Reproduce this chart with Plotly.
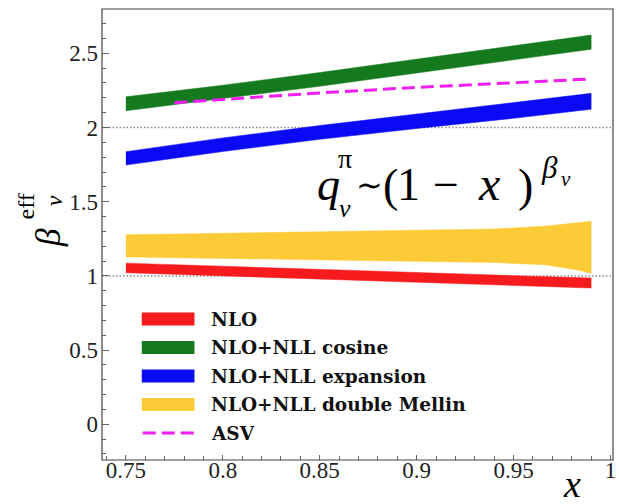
import plotly.graph_objects as go

# ---------------- data ----------------
series_names = ["NLO", "NLO+NLL cosine", "NLO+NLL expansion", "NLO+NLL double Mellin", "ASV"]

x_nlo = [0.75, 0.87, 0.99]
nlo_hi = [1.086, 1.035, 0.985]
nlo_lo = [1.022, 0.970, 0.918]

x_cos = [0.75, 0.80, 0.85, 0.90, 0.95, 0.99]
cos_hi = [2.207, 2.285, 2.370, 2.460, 2.550, 2.623]
cos_lo = [2.113, 2.195, 2.278, 2.366, 2.455, 2.527]

x_exp = [0.75, 0.80, 0.85, 0.90, 0.95, 0.99]
exp_hi = [1.837, 1.930, 2.013, 2.090, 2.165, 2.230]
exp_lo = [1.747, 1.838, 1.920, 1.993, 2.062, 2.123]

x_dm = [0.75, 0.86, 0.94, 0.966, 0.983, 0.99]
dm_hi = [1.277, 1.300, 1.316, 1.335, 1.355, 1.368]
dm_lo = [1.128, 1.106, 1.090, 1.075, 1.040, 1.018]

x_asv = [0.775, 0.82, 0.85, 0.90, 0.95, 0.99]
asv = [2.167, 2.207, 2.233, 2.270, 2.303, 2.327]

ref_levels = [1, 2]

x_ticks = [0.75, 0.8, 0.85, 0.9, 0.95, 1]
x_ticktext = ["0.75", "0.8", "0.85", "0.9", "0.95", "1"]
y_ticks = [0, 0.5, 1, 1.5, 2, 2.5]
y_ticktext = ["0", "0.5", "1", "1.5", "2", "2.5"]

colors = ["#f81b1e", "#157a1e", "#0a0af5", "#fdcb37", "#f01ef0"]

# ---------------- layout helpers (window pixel coords) ----------------
W, H = 619, 504
PL, PR, PT, PB = 102, 616, 9, 460   # plot area in pixels
L, T, R, B = PL, PT, W - PR, H - PB
PW, PH = PR - PL, PB - PT


def px(xp):
    return (xp - PL) / PW


def py(yp):
    return (PB - yp) / PH


fig = go.Figure()

bands = [
    (x_nlo, nlo_hi, nlo_lo),
    (x_cos, cos_hi, cos_lo),
    (x_exp, exp_hi, exp_lo),
    (x_dm, dm_hi, dm_lo),
]
for (xs, hi, lo), name, col in zip(bands, series_names[:4], colors[:4]):
    fig.add_trace(go.Scatter(
        x=list(xs) + list(xs)[::-1],
        y=list(hi) + list(lo)[::-1],
        fill="toself", fillcolor=col, mode="lines",
        line=dict(color=col, width=0.5),
        name=name, showlegend=False, hoverinfo="skip",
    ))

fig.add_trace(go.Scatter(
    x=x_asv, y=asv, mode="lines", name=series_names[4],
    line=dict(color=colors[4], width=3, dash="13px,6px"),
    showlegend=False,
))

# dotted reference lines
for lvl in ref_levels:
    fig.add_shape(type="line", xref="x domain", yref="y", x0=0, x1=1, y0=lvl, y1=lvl,
                  line=dict(color="#8a8a8a", width=1.5, dash="1.5px,2px"), layer="below")

# plot frame
fig.add_shape(type="rect", xref="paper", yref="paper", x0=0, x1=1, y0=0, y1=1,
              line=dict(color="#444", width=1.2), fillcolor="rgba(0,0,0,0)", layer="above")

# ---------------- manual legend ----------------
rows = [319, 347.5, 376, 404.5, 433]
for i, (name, col, ry) in enumerate(zip(series_names, colors, rows)):
    if i < 4:
        fig.add_shape(type="rect", xref="paper", yref="paper",
                      x0=px(142), x1=px(195), y0=py(ry + 6.5), y1=py(ry - 6.5),
                      fillcolor=col, line=dict(width=0))
    else:
        fig.add_shape(type="line", xref="paper", yref="paper",
                      x0=px(143), x1=px(195), y0=py(ry), y1=py(ry),
                      line=dict(color=col, width=3, dash="13px,6px"))
    fig.add_annotation(xref="paper", yref="paper", x=px(210), y=py(ry),
                       xanchor="left", yanchor="middle", showarrow=False,
                       text="<b>%s</b>" % name,
                       font=dict(family="DejaVu Serif", size=18.5, color="#111"))

# ---------------- math text ----------------
SERIF = "Liberation Serif"


def glyph(text, cx, baseline, size):
    cy = baseline - 0.3375 * size
    fig.add_annotation(xref="paper", yref="paper", x=px(cx), y=py(cy),
                       xanchor="center", yanchor="middle", showarrow=False,
                       text=text, font=dict(family=SERIF, size=size, color="black"))


glyph("<i>q</i>", 330, 200, 46)
glyph("π", 346, 168, 28)
glyph("<i>v</i>", 346, 217, 26)
glyph("∼", 371, 196, 32)
glyph("(", 392, 201, 46)
glyph("1", 410, 200, 46)
glyph("−", 448, 200, 46)
glyph("<i>x</i>", 491, 200, 48)
glyph(")", 528, 201, 46)
glyph("<i>β</i>", 552, 178, 31)
glyph("<i>v</i>", 569, 186, 21)

# x axis title
glyph("<i>x</i>", 575, 497, 38)


# y axis title (rotated)
def rglyph(text, cx, cy, size):
    fig.add_annotation(xref="paper", yref="paper", x=px(cx), y=py(cy),
                       xanchor="center", yanchor="middle", showarrow=False, textangle=-90,
                       text=text, font=dict(family=SERIF, size=size, color="black"))


rglyph("<i>β</i>", 48, 238, 36)
rglyph("eff", 26, 206, 24)
rglyph("<i>v</i>", 54, 201, 24)

axis_common = dict(
    showline=False,
    ticks="inside", tickcolor="#666", showgrid=False, zeroline=False,
    ticklabeloverflow="allow",
    tickfont=dict(family=SERIF, size=23, color="#222"),
)

fig.update_layout(
    width=W, height=H,
    margin=dict(l=L, r=R, t=T, b=B),
    paper_bgcolor="white", plot_bgcolor="white",
    showlegend=False,
    xaxis=dict(range=[0.75 - 24 / 1950, 1 + 2.5 / 1950], tickvals=x_ticks, ticktext=x_ticktext,
               ticklen=5, ticklabelstandoff=-6,
               minor=dict(dtick=0.01, ticks="inside", ticklen=4, tickcolor="#666", showgrid=False),
               **axis_common),
    yaxis=dict(range=[-0.2406, 2.7985], tickvals=y_ticks, ticktext=y_ticktext,
               ticklen=7, ticklabelstandoff=3,
               minor=dict(dtick=0.1, ticks="inside", ticklen=4, tickcolor="#666", showgrid=False),
               **axis_common),
)

fig.write_html(
    "out.html",
    config={"displayModeBar": False},
    post_script="document.body.style.margin='0';document.body.style.overflow='hidden';",
)
